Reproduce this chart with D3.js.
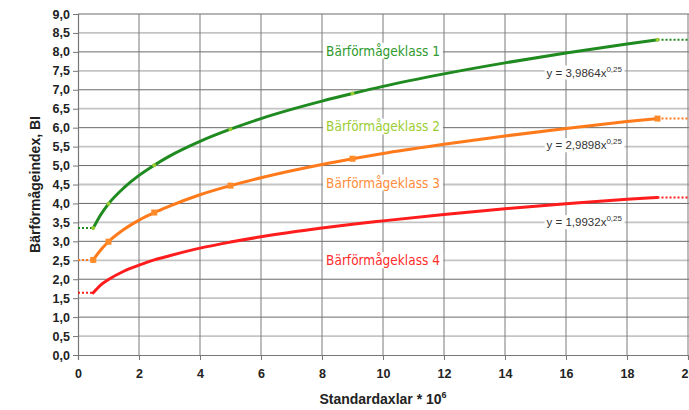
<!DOCTYPE html>
<html><head><meta charset="utf-8">
<script src="https://cdn.jsdelivr.net/npm/d3@7"></script>
<style>body{margin:0;background:#fff}svg{display:block}</style>
</head><body>
<svg id="c" width="689" height="410"></svg>
<script>
const xs = [0.5, 0.75, 1, 1.5, 2, 2.5, 3, 4, 5, 6, 8, 9, 10, 12, 14, 16, 18, 19];
const class1 = [3.35, 3.71, 3.99, 4.41, 4.74, 5.01, 5.25, 5.64, 5.96, 6.24, 6.70, 6.90, 7.09, 7.42, 7.71, 7.97, 8.21, 8.32];
const class2 = [2.51, 2.78, 2.99, 3.31, 3.56, 3.76, 3.93, 4.23, 4.47, 4.68, 5.03, 5.18, 5.32, 5.56, 5.78, 5.98, 6.16, 6.24];
const class3 = [1.64, 1.85, 1.99, 2.21, 2.37, 2.51, 2.62, 2.82, 2.98, 3.12, 3.35, 3.45, 3.54, 3.71, 3.86, 3.99, 4.11, 4.16];
const markerXs = [0.5, 1, 2.5, 5, 9, 19];
const xTicks = [0, 2, 4, 6, 8, 10, 12, 14, 16, 18, 20];
const yTicks = [0, 0.5, 1, 1.5, 2, 2.5, 3, 3.5, 4, 4.5, 5, 5.5, 6, 6.5, 7, 7.5, 8, 8.5, 9];
const classLabels = ["Bärförmågeklass 1", "Bärförmågeklass 2", "Bärförmågeklass 3", "Bärförmågeklass 4"];
const classLabelY = [7.9, 5.9, 4.42, 2.37];
const equations = ["3,9864", "2,9898", "1,9932"];
const equationY = [7.35, 5.43, 3.4];

const svg = d3.select("#c");
const x = d3.scaleLinear().domain([0, 20]).range([78, 688]);
const y = d3.scaleLinear().domain([0, 9]).range([355, 14]);
const fmt = v => d3.format(".1f")(v).replace(".", ",");

// grid
const g = svg.append("g");
g.selectAll("line.h").data(yTicks.filter(v => v > 0)).join("line")
  .attr("x1", x(0)).attr("x2", 689).attr("y1", d => y(d)).attr("y2", d => y(d))
  .attr("stroke", d => Number.isInteger(d) ? "#6a6a6a" : "#c4c4c4")
  .attr("stroke-width", d => Number.isInteger(d) ? 1 : 1.8);
g.selectAll("line.v").data(xTicks.filter(v => v > 0)).join("line")
  .attr("x1", d => x(d)).attr("x2", d => x(d)).attr("y1", y(9)).attr("y2", y(0))
  .attr("stroke", "#7a7a7a").attr("stroke-width", 1);

// axes
const yAx = svg.append("g").attr("transform", `translate(${x(0)},0)`)
  .call(d3.axisLeft(y).tickValues(yTicks).tickFormat(fmt).tickSize(5).tickPadding(3));
const xAx = svg.append("g").attr("transform", `translate(0,${y(0)})`)
  .call(d3.axisBottom(x).tickValues(xTicks).tickFormat(d3.format("d")).tickSize(5).tickPadding(9));
[yAx, xAx].forEach(a => {
  a.select(".domain").attr("stroke", "#777").attr("stroke-width", 1.2);
  a.selectAll(".tick line").attr("stroke", "#777");
  a.selectAll("text").attr("font-family", "Liberation Sans, Arial, sans-serif")
    .attr("font-weight", "bold").attr("font-size", 12.5).attr("fill", "#222");
});

// labels on chart with white background
const labelColors = ["#2e9a2e", "#9acd32", "#ff8c3a", "#ff2a2a"];
classLabels.forEach((t, i) => {
  const lg = svg.append("g");
  const r = lg.append("rect").attr("fill", "#fff");
  const el = lg.append("text").attr("x", x(10)).attr("y", y(classLabelY[i])).attr("text-anchor", "middle")
    .attr("font-family", "'DejaVu Sans Condensed', 'DejaVu Sans', sans-serif").attr("font-size", 13.5)
    .attr("fill", labelColors[i]).text(t);
  const b = el.node().getBBox();
  r.attr("x", b.x - 3).attr("y", b.y).attr("width", b.width + 6).attr("height", b.height);
});

const seriesData = [class1, class2, class3];
const lineColors = ["#1f8a1f", "#ff7a1a", "#ff1c1c"];
const line = d3.line().x((d, i) => x(xs[i])).y(d => y(d)).curve(d3.curveMonotoneX);
seriesData.forEach((s, i) => {
  svg.append("path").datum(s).attr("d", line).attr("fill", "none")
    .attr("stroke", lineColors[i]).attr("stroke-width", 3).attr("stroke-linecap", "round");
  svg.append("line").attr("x1", x(0)).attr("x2", x(xs[0])).attr("y1", y(s[0])).attr("y2", y(s[0]))
    .attr("stroke", lineColors[i]).attr("stroke-width", 2).attr("stroke-dasharray", "2,2");
  svg.append("line").attr("x1", x(xs[xs.length - 1])).attr("x2", 689).attr("y1", y(s[s.length - 1])).attr("y2", y(s[s.length - 1]))
    .attr("stroke", lineColors[i]).attr("stroke-width", 2).attr("stroke-dasharray", "2,2");
});
// markers
svg.selectAll("rect.m").data(markerXs).join("rect").attr("class", "m")
  .attr("x", d => x(d) - 3).attr("y", d => y(class2[xs.indexOf(d)]) - 3)
  .attr("width", 6).attr("height", 6).attr("fill", "#ff8a2a");
svg.selectAll("circle.m").data(markerXs).join("circle").attr("class", "m")
  .attr("cx", d => x(d)).attr("cy", d => y(class1[xs.indexOf(d)]))
  .attr("r", 2).attr("fill", "#9acd32");

// equations
equations.forEach((e, i) => {
  const eg = svg.append("g");
  const r = eg.append("rect").attr("fill", "#fff");
  const t = eg.append("text").attr("x", x(16.6)).attr("y", y(equationY[i])).attr("text-anchor", "middle")
    .attr("font-family", "Liberation Sans, Arial, sans-serif").attr("font-size", 11.5).attr("fill", "#333");
  t.append("tspan").text(`y = ${e}x`);
  t.append("tspan").attr("dy", -5).attr("font-size", 8).text("0,25");
  const b = t.node().getBBox();
  r.attr("x", b.x - 2).attr("y", b.y + 1).attr("width", b.width + 4).attr("height", b.height);
});

// axis titles
svg.append("text").attr("transform", `translate(40,${y(4.5)}) rotate(-90)`).attr("text-anchor", "middle")
  .attr("font-family", "Liberation Sans, Arial, sans-serif").attr("font-weight", "bold").attr("font-size", 14)
  .attr("fill", "#222").text("Bärförmågeindex, BI");
const xt = svg.append("text").attr("x", x(10)).attr("y", 404).attr("text-anchor", "middle")
  .attr("font-family", "Liberation Sans, Arial, sans-serif").attr("font-weight", "bold").attr("font-size", 14).attr("fill", "#222");
xt.append("tspan").text("Standardaxlar * 10");
xt.append("tspan").attr("dy", -6).attr("font-size", 9).text("6");
</script>
</body></html>
